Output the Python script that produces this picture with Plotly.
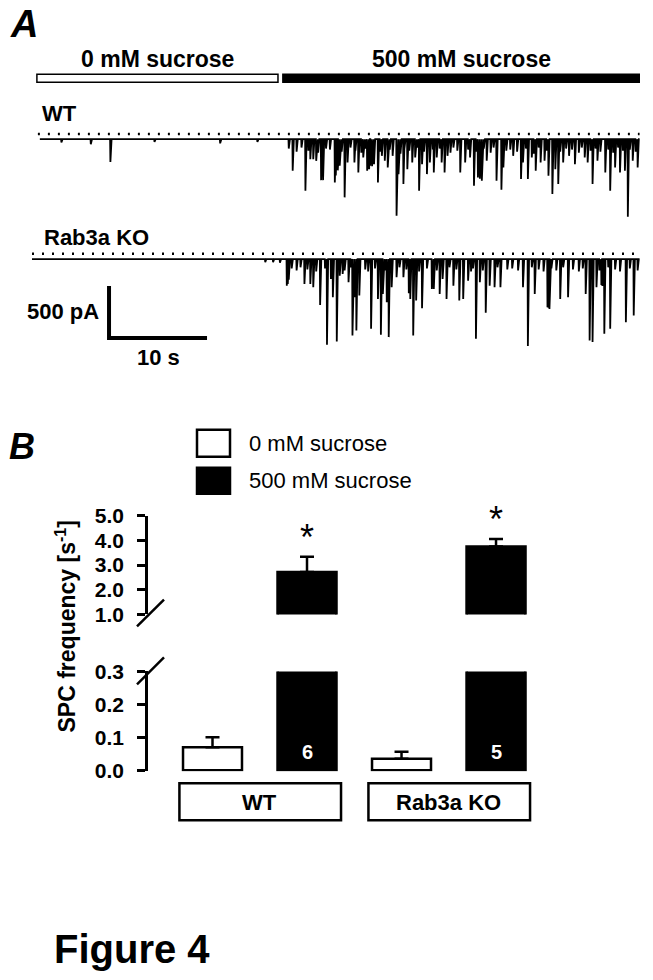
import plotly.graph_objects as go

W, H = 653, 980
FONT = "Liberation Sans, Arial, sans-serif"

# ---------------- Panel A data (time in s, current in pA) ----------------
TRACE_T_END = 62.0
WT_T_START = 0.8
KO_T_START = 0.0
SUCROSE_LABELS = ["0 mM sucrose", "500 mM sucrose"]
SUCROSE_START = [0.5, 25.6]
SUCROSE_END = [25.1, 62.0]
SUCROSE_FILL = ["white", "black"]

WT_EVENT_T = [3.0, 6.0, 8.0, 12.5, 19.2, 23.0,
              26.6, 27.9, 28.4, 28.7, 29.0, 29.5, 29.7, 30.9, 31.0, 31.1, 31.2, 31.4,
              31.9, 32.2, 32.9, 33.3, 33.8, 34.2, 34.4, 34.5, 34.7, 34.9, 35.3, 35.7,
              36.0, 36.3, 36.8, 37.2, 37.4, 37.9, 38.3, 38.8, 39.1, 39.5, 39.8, 40.3,
              40.6, 41.0, 41.3, 41.8, 42.1, 42.4, 43.7, 44.2, 44.7, 45.1, 45.5, 45.7,
              45.9, 46.4, 47.4, 47.9, 48.1, 49.1, 49.9, 50.1, 50.6, 51.0, 51.4, 51.9,
              52.3, 52.7, 53.1, 53.4, 53.7, 54.2, 54.8, 55.4, 56.4, 56.7, 57.2, 57.7,
              58.5, 59.0, 59.5, 60.0, 60.5, 60.8, 61.3, 61.8]
WT_EVENT_PA = [30, 48, 220, 25, 40, 25,
               304, 496, 192, 192, 208, 394, 394, 416, 350, 272, 300, 256,
               560, 224, 224, 320, 176, 304, 290, 256, 260, 240, 416, 160,
               208, 272, 160, 736, 336, 432, 288, 224, 176, 496, 240, 336,
               224, 320, 176, 224, 320, 160, 320, 224, 176, 448, 368, 380,
               400, 208, 400, 486, 272, 160, 384, 224, 384, 176, 304, 224,
               208, 352, 528, 288, 432, 224, 160, 240, 176, 224, 432, 208,
               320, 496, 272, 320, 304, 746, 208, 272]
WT_MINI_T = [26.2, 27.0, 27.5, 28.2, 29.2, 30.0, 30.4, 31.6, 32.5, 33.0, 33.6, 34.0,
             35.5, 36.5, 37.6, 38.0, 38.5, 39.3, 40.0, 40.9, 41.6, 42.7, 43.0, 43.4,
             44.5, 45.3, 46.1, 46.8, 47.1, 48.4, 48.8, 49.5, 50.4, 51.2, 51.7, 52.5,
             53.9, 54.5, 55.1, 55.8, 56.1, 57.0, 57.5, 58.0, 58.8, 59.3, 59.8, 60.3,
             61.0, 61.6]
WT_MINI_PA = [90, 120, 80, 110, 130, 90, 100, 120, 80, 110, 130, 90,
              120, 100, 140, 90, 110, 80, 120, 100, 90, 130, 80, 110,
              100, 120, 90, 130, 80, 110, 100, 120, 90, 140, 80, 110,
              120, 90, 100, 130, 80, 110, 90, 120, 100, 130, 80, 110,
              100, 120]

KO_EVENT_T = [23.8, 24.6, 25.3,
              26.0, 26.1, 26.2, 27.8, 28.4, 28.7, 29.4, 30.1, 30.5, 30.7, 31.1, 31.4,
              31.7, 32.3, 32.7, 32.9, 33.1, 33.4, 34.6, 35.3, 35.6, 35.8, 36.2, 36.4,
              36.7, 37.2, 37.9, 38.45, 38.6, 38.9, 39.2, 39.8, 40.8, 41.0, 41.6, 41.9,
              42.3, 43.0, 43.6, 44.0, 44.5, 45.3, 45.7, 46.3, 46.7, 47.2, 47.8, 50.1,
              50.6, 51.3, 52.6, 52.7, 52.8, 53.9, 54.7, 56.5, 56.9, 57.2, 57.6, 58.1,
              58.2, 58.3, 58.4, 59.0, 60.6, 61.4]
KO_EVENT_PA = [30, 30, 35,
               256, 240, 200, 240, 240, 272, 442, 826, 192, 368, 794, 160,
               144, 224, 736, 368, 688, 352, 672, 384, 730, 336, 416, 752,
               272, 176, 176, 330, 384, 736, 400, 474, 288, 288, 336, 192,
               384, 256, 400, 384, 208, 768, 224, 518, 256, 272, 272, 272,
               838, 336, 464, 470, 480, 384, 368, 336, 784, 800, 272, 250,
               260, 176, 720, 672, 608, 544]
KO_MINI_T = [26.5, 27.0, 27.4, 28.1, 29.0, 29.9, 31.9, 32.5, 34.0, 34.3, 35.0, 36.0,
             37.5, 38.2, 39.5, 40.3, 41.3, 42.6, 43.3, 44.8, 45.0, 46.0, 47.5, 48.5,
             49.0, 49.6, 51.0, 51.7, 52.2, 53.0, 53.5, 54.2, 55.2, 55.8, 56.2, 57.9,
             58.8, 59.5, 60.0, 61.0, 61.8]
KO_MINI_PA = [90, 110, 80, 100, 120, 90, 110, 80, 100, 120, 90, 110,
              80, 100, 120, 90, 110, 80, 100, 120, 90, 110, 80, 100,
              90, 110, 80, 100, 120, 90, 110, 80, 100, 120, 90, 110,
              80, 100, 120, 90, 110]

BASELINE_MARK_PA = 50
SCALE_BAR_S = 10
SCALE_BAR_PA = 500

# ---------------- Panel B data ----------------
GENOTYPES = ["WT", "Rab3a KO"]
CONDITIONS = ["0 mM sucrose", "500 mM sucrose"]
FREQ_0 = [0.07, 0.035]
SEM_0 = [0.03, 0.021]
FREQ_500 = [2.72, 3.75]
SEM_500 = [0.62, 0.3]
N_CELLS = [6, 5]
UPPER_TICKS = [1.0, 2.0, 3.0, 4.0, 5.0]
LOWER_TICKS = [0.0, 0.1, 0.2, 0.3]


def PX(x):
    return x / W


def YC(y):
    # vertical calibration of layout positions
    return (y - 11.6) / 0.978


def PY(y):
    return 1 - YC(y) / H


def spike_trace(t0, t1, times, amps):
    ev = sorted(zip(times, amps))
    xs, ys = [t0], [0.0]
    for t, a in ev:
        xs += [t - 0.03, t, t + 0.12]
        ys += [0.0, -a, 0.0]
    xs.append(t1)
    ys.append(0.0)
    return xs, ys


fig = go.Figure()

# ---- Panel A traces ----
wx, wy = spike_trace(WT_T_START, TRACE_T_END, WT_EVENT_T + WT_MINI_T, WT_EVENT_PA + WT_MINI_PA)
kx, ky = spike_trace(KO_T_START, TRACE_T_END, KO_EVENT_T + KO_MINI_T, KO_EVENT_PA + KO_MINI_PA)

fig.add_trace(go.Scatter(x=wx, y=wy, mode="lines", line=dict(color="black", width=1.8),
                         xaxis="x", yaxis="y", hoverinfo="skip"))
fig.add_trace(go.Scatter(x=kx, y=ky, mode="lines", line=dict(color="black", width=1.8),
                         xaxis="x", yaxis="y4", hoverinfo="skip"))
# dotted baseline references
fig.add_trace(go.Scatter(x=[WT_T_START - 0.2, TRACE_T_END], y=[BASELINE_MARK_PA] * 2, mode="lines",
                         line=dict(color="black", width=2.5, dash="2px,8px"),
                         xaxis="x", yaxis="y", hoverinfo="skip"))
fig.add_trace(go.Scatter(x=[KO_T_START, TRACE_T_END], y=[BASELINE_MARK_PA] * 2, mode="lines",
                         line=dict(color="black", width=2.5, dash="2px,8px"),
                         xaxis="x", yaxis="y4", hoverinfo="skip"))
# scale bar
sb_t, sb_y = 7.86, -760
fig.add_trace(go.Scatter(x=[sb_t, sb_t, sb_t + SCALE_BAR_S],
                         y=[sb_y + SCALE_BAR_PA, sb_y, sb_y], mode="lines",
                         line=dict(color="black", width=4),
                         xaxis="x", yaxis="y4", hoverinfo="skip"))

# ---- Panel B bars ----
BAR_W = 0.624
x0 = [2 * i for i in range(len(GENOTYPES))]
x5 = [2 * i + 1 for i in range(len(GENOTYPES))]
for ya in ["y2", "y3"]:
    fig.add_trace(go.Bar(x=x0, y=FREQ_0, width=BAR_W, name=CONDITIONS[0],
                         marker=dict(color="white", line=dict(color="black", width=2.5)),
                         error_y=dict(type="data", array=SEM_0, arrayminus=[0] * len(SEM_0),
                                      symmetric=False, color="black", thickness=2.5, width=7),
                         xaxis="x2", yaxis=ya, hoverinfo="skip"))
    fig.add_trace(go.Bar(x=x5, y=FREQ_500, width=BAR_W, name=CONDITIONS[1],
                         marker=dict(color="black", line=dict(color="black", width=2.5)),
                         error_y=dict(type="data", array=SEM_500, arrayminus=[0] * len(SEM_500),
                                      symmetric=False, color="black", thickness=2.5, width=7),
                         xaxis="x2", yaxis=ya, hoverinfo="skip"))

shapes = []
annotations = []


def note(text, x, y, size, bold=True, italic=False, xanchor="center", yanchor="middle",
         color="black", xref="paper", yref="paper", **kw):
    return dict(text=text, x=x, y=y, xref=xref, yref=yref, showarrow=False,
                xanchor=xanchor, yanchor=yanchor,
                font=dict(family=FONT, size=size, color=color,
                          weight="bold" if bold else "normal",
                          style="italic" if italic else "normal"), **kw)


# sucrose application bars + labels
for lab, s, e, c in zip(SUCROSE_LABELS, SUCROSE_START, SUCROSE_END, SUCROSE_FILL):
    shapes.append(dict(type="rect", xref="x", yref="paper", x0=s, x1=e, y0=PY(82), y1=PY(74),
                       fillcolor=c, line=dict(color="black", width=1.5)))
    annotations.append(note(lab, (s + e) / 2, PY(59), 23, xref="x"))

annotations.append(note("A", PX(24), PY(24), 38, italic=True))
annotations.append(note("WT", PX(40), PY(113), 22, xanchor="left"))
annotations.append(note("Rab3a KO", PX(42), PY(237), 22, xanchor="left"))
annotations.append(note(f"{SCALE_BAR_PA} pA", sb_t, sb_y + SCALE_BAR_PA / 2, 22, xanchor="right",
                        xref="x", yref="y4", xshift=-8))
annotations.append(note(f"{SCALE_BAR_S} s", sb_t + SCALE_BAR_S / 2, sb_y, 22, yanchor="top",
                        xref="x", yref="y4", yshift=-5))

# Panel B decorations
annotations.append(note("B", PX(22), PY(447), 36, italic=True))
# legend
shapes.append(dict(type="rect", xref="paper", yref="paper", x0=PX(197), x1=PX(230), y0=PY(457), y1=PY(430),
                   fillcolor="white", line=dict(color="black", width=2.5)))
shapes.append(dict(type="rect", xref="paper", yref="paper", x0=PX(197), x1=PX(230), y0=PY(494), y1=PY(468),
                   fillcolor="black", line=dict(color="black", width=2.5)))
annotations.append(note(CONDITIONS[0], PX(247), PY(444), 22, bold=False, xanchor="left"))
annotations.append(note(CONDITIONS[1], PX(247), PY(481), 22, bold=False, xanchor="left"))

# axis breaks
shapes.append(dict(type="line", xref="paper", yref="paper", x0=PX(137), y0=PY(627), x1=PX(164), y1=PY(600),
                   line=dict(color="black", width=2.5)))
shapes.append(dict(type="line", xref="paper", yref="paper", x0=PX(137), y0=PY(685), x1=PX(164), y1=PY(658),
                   line=dict(color="black", width=2.5)))

# y title
annotations.append(note("SPC frequency [s<sup>-1</sup>]", PX(66), PY(627), 23, textangle=-90))

# genotype boxes
for i, g in enumerate(GENOTYPES):
    shapes.append(dict(type="rect", xref="x2", yref="paper", x0=2 * i - 0.35, x1=2 * i + 1.36,
                       y0=PY(821), y1=PY(784), fillcolor="white", line=dict(color="black", width=2.5)))
    annotations.append(note(g, 2 * i + 0.5, PY(803), 22, xref="x2"))
    annotations.append(note(str(N_CELLS[i]), 2 * i + 1, 0.055, 20, color="white", xref="x2", yref="y3"))
    annotations.append(note("*", 2 * i + 1, FREQ_500[i] + SEM_500[i], 36, bold=False, yanchor="bottom",
                            xref="x2", yref="y2", yshift=-3))

annotations.append(note("Figure 4", PX(52), PY(950), 40, xanchor="left"))

# axes geometry (reference pixel rows)
wt_top, wt_bot, wt_base = 120, 228, 139
ko_top, ko_bot, ko_base = 240, 360, 259
PA_PER_PX = 500 / 52.0

yaxis_common = dict(showline=True, linecolor="black", linewidth=2.5, ticks="outside", ticklen=8,
                    tickwidth=2.5, tickcolor="black", showgrid=False, zeroline=False,
                    tickfont=dict(family=FONT, size=21, color="black", weight="bold"),
                    ticklabelstandoff=9, fixedrange=True)

fig.update_layout(
    width=W, height=H, margin=dict(l=0, r=0, t=0, b=0),
    paper_bgcolor="white", plot_bgcolor="rgba(0,0,0,0)",
    showlegend=False, barmode="overlay",
    xaxis=dict(domain=[PX(32), PX(640)], range=[0, 608 / 9.8], visible=False, anchor="y", fixedrange=True),
    yaxis=dict(domain=[PY(wt_bot), PY(wt_top)],
               range=[-(wt_bot - wt_base) * PA_PER_PX, (wt_base - wt_top) * PA_PER_PX],
               visible=False, anchor="x", fixedrange=True),
    yaxis4=dict(domain=[PY(ko_bot), PY(ko_top)],
                range=[-(ko_bot - ko_base) * PA_PER_PX, (ko_base - ko_top) * PA_PER_PX],
                visible=False, anchor="x", fixedrange=True),
    xaxis2=dict(domain=[PX(148), PX(543)], range=[-0.6825, 3.497], visible=False, anchor="y3", fixedrange=True),
    yaxis2=dict(domain=[PY(615), PY(516)], range=[1, 5], anchor="x2",
                tickvals=UPPER_TICKS, ticktext=[f"{v:.1f}" for v in UPPER_TICKS], **yaxis_common),
    yaxis3=dict(domain=[PY(772), PY(672)], range=[-0.003, 0.3], anchor="x2",
                tickvals=LOWER_TICKS, ticktext=[f"{v:.1f}" for v in LOWER_TICKS], **yaxis_common),
    shapes=shapes, annotations=annotations,
)

fig.write_html("out.html", config={"displayModeBar": False},
               post_script="document.body.style.margin='0';")
